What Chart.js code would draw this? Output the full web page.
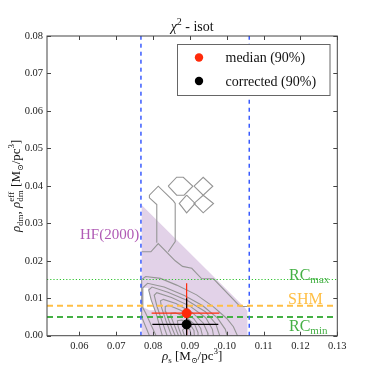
<!DOCTYPE html>
<html lang="en">
<head>
<meta charset="UTF-8">
<title>chi2 - isot</title>
<script src="https://cdn.jsdelivr.net/npm/chart.js"></script>
<style>
  html, body { margin: 0; padding: 0; background: #fff; }
</style>
</head>
<body>
<canvas id="rho-chart" width="374" height="374"></canvas>
<script>
// axis limits and ticks
const xMin = 0.0512, xMax = 0.13;
const yMin = 0, yMax = 0.08;
const xTicks = [0.06, 0.07, 0.08, 0.09, 0.10, 0.11, 0.12, 0.13];
const yTicks = [0.00, 0.01, 0.02, 0.03, 0.04, 0.05, 0.06, 0.07, 0.08];

// best-fit points with 90% ranges
const medianPoint = [0.0891, 0.0060];
const medianXRange = [0.0796, 0.0980];
const medianYRange = [0.0000, 0.0140];
const correctedPoint = [0.0891, 0.0030];
const correctedXRange = [0.0798, 0.0977];
const correctedYRange = [0.0000, 0.0100];

// reference values
const rhoSBounds = [0.0767, 0.1061];
const rcMax = 0.015;
const shm = 0.008;
const rcMin = 0.005;

// HF(2000) band
const hfBand = [[0.0769, 0.0], [0.0769, 0.0349], [0.1050, 0.0074], [0.1056, 0.0066], [0.1056, 0.0]];
const whitePatch = [[0.0773, 0.0076], [0.0773, 0.0127], [0.0786, 0.0128], [0.0794, 0.0096], [0.0806, 0.0068], [0.0790, 0.0068]];

// chi2 contours
const outerLine = [[0.0769, 0.0224], [0.0794, 0.0224], [0.0814, 0.0246], [0.0860, 0.0200], [0.0880, 0.0185], [0.0905, 0.0180],
  [0.0932, 0.0152], [0.0964, 0.0152], [0.1036, 0.0078], [0.1061, 0.0078]];
const hookLine = [[0.0841, 0.0224], [0.0860, 0.0251], [0.0860, 0.0353], [0.0855, 0.0360], [0.0814, 0.0399], [0.0790, 0.0375],
  [0.0790, 0.0368], [0.0810, 0.0350], [0.0810, 0.0248]];
const hexA = [[0.0841, 0.0399], [0.0864, 0.0423], [0.0882, 0.0423], [0.0908, 0.0399], [0.0884, 0.0375], [0.0864, 0.0375], [0.0841, 0.0399]];
const diamondB = [[0.0911, 0.0399], [0.0936, 0.0423], [0.0962, 0.0399], [0.0936, 0.0375], [0.0911, 0.0399]];
const diamondC = [[0.0936, 0.0375], [0.0964, 0.0353], [0.0936, 0.0328], [0.0911, 0.0353], [0.0936, 0.0375]];
const diamondD = [[0.0891, 0.0375], [0.0914, 0.0353], [0.0891, 0.0328], [0.0871, 0.0353], [0.0891, 0.0375]];

const contour1 = [[0.0790, 0], [0.0769, 0.0050], [0.0769, 0.0150], [0.0780, 0.0158], [0.0820, 0.0153], [0.0864, 0.0135],
  [0.0918, 0.0109], [0.0964, 0.0077], [0.1000, 0.0046], [0.1018, 0.0024], [0.1029, 0]];
const contour2 = [[0.0808, 0], [0.0780, 0.0060], [0.0772, 0.0075], [0.0772, 0.0128], [0.0785, 0.0140], [0.0830, 0.0130],
  [0.0885, 0.0107], [0.0935, 0.0080], [0.0975, 0.0047], [0.0996, 0.0017], [0.1001, 0]];
const contour3 = [[0.0825, 0], [0.0808, 0.0060], [0.0795, 0.0095], [0.0788, 0.0122], [0.0797, 0.0130], [0.0840, 0.0116],
  [0.0893, 0.0094], [0.0942, 0.0064], [0.0970, 0.0032], [0.0981, 0]];
const contour4 = [[0.0838, 0], [0.0822, 0.0045], [0.0810, 0.0080], [0.0803, 0.0108], [0.0810, 0.0115], [0.0850, 0.0102],
  [0.0900, 0.0079], [0.0943, 0.0048], [0.0961, 0.0017], [0.0964, 0]];
const contour5 = [[0.0850, 0], [0.0835, 0.0040], [0.0823, 0.0075], [0.0820, 0.0093], [0.0828, 0.0097], [0.0862, 0.0086],
  [0.0906, 0.0062], [0.0936, 0.0034], [0.0948, 0.0008], [0.0949, 0]];
const contour6 = [[0.0860, 0], [0.0845, 0.0035], [0.0834, 0.0065], [0.0833, 0.0078], [0.0842, 0.0081], [0.0875, 0.0068],
  [0.0910, 0.0046], [0.0929, 0.0020], [0.0934, 0]];
const contour7 = [[0.0869, 0], [0.0857, 0.0030], [0.0848, 0.0052], [0.0849, 0.0060], [0.0860, 0.0061], [0.0890, 0.0049],
  [0.0913, 0.0030], [0.0922, 0.0008], [0.0922, 0]];
const contour8 = [[0.0877, 0], [0.0868, 0.0024], [0.0866, 0.0040], [0.0878, 0.0042], [0.0900, 0.0031], [0.0911, 0.0014], [0.0912, 0]];
const contour9 = [[0.0885, 0], [0.0880, 0.0015], [0.0888, 0.0023], [0.0900, 0.0016], [0.0903, 0]];

const contourLines = [outerLine, hookLine, hexA, diamondB, diamondC, diamondD,
  contour1, contour2, contour3, contour4, contour5, contour6, contour7, contour8, contour9];

const SERIF = '"Liberation Serif", "DejaVu Serif", serif';
const RED = '#ff2a0a';
const GREEN = '#44b044';
const ORANGE = '#ffbf45';
const BLUE = '#3a5cff';
const PURPLE = '#b05ab5';

function toXY(pairs) {
  return pairs.map(p => ({ x: p[0], y: p[1] }));
}

function line(pairs, color, width, dash, order) {
  return {
    data: toXY(pairs), showLine: true, borderColor: color, borderWidth: width,
    borderDash: dash || [], pointRadius: 0, fill: false, order: order
  };
}

const datasets = [];
// points on top
datasets.push({ data: toXY([medianPoint]), pointRadius: 4.5, pointBackgroundColor: RED, pointBorderColor: RED, showLine: false, order: 0 });
datasets.push({ data: toXY([correctedPoint]), pointRadius: 4.5, pointBackgroundColor: '#000', pointBorderColor: '#000', showLine: false, order: 0 });
// error bars
datasets.push(line([[correctedXRange[0], correctedPoint[1]], [correctedXRange[1], correctedPoint[1]]], '#000', 1.2, null, 1));
datasets.push(line([[correctedPoint[0], correctedYRange[0]], [correctedPoint[0], correctedYRange[1]]], '#000', 1.2, null, 1));
datasets.push(line([[medianXRange[0], medianPoint[1]], [medianXRange[1], medianPoint[1]]], RED, 1.2, null, 1));
datasets.push(line([[medianPoint[0], medianYRange[0]], [medianPoint[0], medianYRange[1]]], RED, 1.2, null, 1));
// reference lines
rhoSBounds.forEach(v => datasets.push(line([[v, yMin], [v, yMax]], BLUE, 1.5, [4, 4], 2)));
datasets.push(line([[xMin, rcMax], [xMax, rcMax]], '#2fc42f', 1.2, [1.2, 2], 2));
datasets.push(line([[xMin, shm], [xMax, shm]], ORANGE, 2, [6, 4], 2));
datasets.push(line([[xMin, rcMin], [xMax, rcMin]], GREEN, 2, [6, 4], 2));
// contours
contourLines.forEach(c => datasets.push(line(c, '#959595', 1.1, null, 3)));
// white patch and HF band
datasets.push({ data: toXY(whitePatch), showLine: true, borderWidth: 0, borderColor: '#fff', backgroundColor: '#fff', pointRadius: 0, fill: 'shape', order: 4 });
datasets.push({ data: toXY(hfBand), showLine: true, borderWidth: 0, borderColor: 'rgba(0,0,0,0)', backgroundColor: '#e2d2e8', pointRadius: 0, fill: 'shape', order: 5 });

function drawRich(ctx, parts, x, y, align) {
  const measure = () => {
    let w = 0, stackW = 0;
    parts.forEach(p => {
      ctx.font = (p.it ? 'italic ' : '') + p.s + 'px ' + SERIF;
      const pw = ctx.measureText(p.t).width;
      if (p.stack) { stackW = pw; return; }
      w += Math.max(pw, stackW); stackW = 0;
    });
    return w;
  };
  let cx = align === 'center' ? x - measure() / 2 : x;
  let stackW = 0;
  ctx.textAlign = 'left';
  ctx.textBaseline = 'alphabetic';
  parts.forEach(p => {
    ctx.font = (p.it ? 'italic ' : '') + p.s + 'px ' + SERIF;
    const pw = ctx.measureText(p.t).width;
    ctx.fillText(p.t, cx, y + (p.dy || 0));
    if (p.stack) { stackW = pw; return; }
    cx += Math.max(pw, stackW); stackW = 0;
  });
}

const decorPlugin = {
  id: 'decor',
  afterDraw(chart) {
    const ctx = chart.ctx;
    const a = chart.chartArea;
    const xs = chart.scales.x, ys = chart.scales.y;
    ctx.save();
    // frame and inward ticks
    ctx.strokeStyle = '#444';
    ctx.lineWidth = 1;
    ctx.strokeRect(a.left, a.top, a.right - a.left, a.bottom - a.top);
    ctx.beginPath();
    xTicks.forEach(v => {
      const px = Math.round(xs.getPixelForValue(v)) + 0.5;
      ctx.moveTo(px, a.bottom); ctx.lineTo(px, a.bottom - 4);
      ctx.moveTo(px, a.top); ctx.lineTo(px, a.top + 4);
    });
    yTicks.forEach(v => {
      const py = Math.round(ys.getPixelForValue(v)) + 0.5;
      ctx.moveTo(a.left, py); ctx.lineTo(a.left + 4, py);
      ctx.moveTo(a.right, py); ctx.lineTo(a.right - 4, py);
    });
    ctx.stroke();

    // title
    ctx.fillStyle = '#111';
    drawRich(ctx, [{ t: 'χ', s: 14, it: true }, { t: '2', s: 10, dy: -6 }, { t: ' - isot', s: 14 }], (a.left + a.right) / 2, 31, 'center');
    // x label
    drawRich(ctx, [{ t: 'ρ', s: 13, it: true }, { t: 's', s: 9, dy: 3 }, { t: ' [M', s: 13 }, { t: '⊙', s: 8, dy: 3 },
      { t: '/pc', s: 13 }, { t: '3', s: 9, dy: -6 }, { t: ']', s: 13 }], (a.left + a.right) / 2, 360, 'center');
    // y label
    ctx.save();
    ctx.translate(20, (a.top + a.bottom) / 2);
    ctx.rotate(-Math.PI / 2);
    drawRich(ctx, [{ t: 'ρ', s: 13, it: true }, { t: 'dm', s: 9, dy: 3 }, { t: ', ', s: 13 }, { t: 'ρ', s: 13, it: true },
      { t: 'eff', s: 9, dy: -6, stack: true }, { t: 'dm', s: 9, dy: 3 }, { t: ' [M', s: 13 }, { t: '⊙', s: 8, dy: 3 },
      { t: '/pc', s: 13 }, { t: '3', s: 9, dy: -6 }, { t: ']', s: 13 }], 0, 0, 'center');
    ctx.restore();

    // annotations
    ctx.fillStyle = PURPLE;
    drawRich(ctx, [{ t: 'HF(2000)', s: 15 }], 80, 238.5, 'left');
    ctx.fillStyle = GREEN;
    drawRich(ctx, [{ t: 'RC', s: 16 }, { t: 'max', s: 11, dy: 3 }], 289, 280, 'left');
    drawRich(ctx, [{ t: 'RC', s: 16 }, { t: 'min', s: 11, dy: 3 }], 289, 331, 'left');
    ctx.fillStyle = ORANGE;
    drawRich(ctx, [{ t: 'SHM', s: 16 }], 288, 304, 'left');

    // legend
    ctx.fillStyle = '#fff';
    ctx.fillRect(177.5, 44.5, 152.5, 51);
    ctx.strokeStyle = '#666';
    ctx.strokeRect(177.5, 44.5, 152.5, 51);
    ctx.fillStyle = RED;
    ctx.beginPath(); ctx.arc(199, 57.5, 4.2, 0, Math.PI * 2); ctx.fill();
    ctx.fillStyle = '#000';
    ctx.beginPath(); ctx.arc(199, 81, 4.2, 0, Math.PI * 2); ctx.fill();
    ctx.fillStyle = '#111';
    drawRich(ctx, [{ t: 'median (90%)', s: 14 }], 225.5, 62, 'left');
    drawRich(ctx, [{ t: 'corrected (90%)', s: 14 }], 225.5, 85.5, 'left');
    ctx.restore();
  }
};

new Chart(document.getElementById('rho-chart'), {
  type: 'scatter',
  data: { datasets: datasets },
  options: {
    responsive: false,
    animation: false,
    layout: { padding: { top: 36, right: 36.7, left: 0, bottom: 0 } },
    plugins: { legend: { display: false }, tooltip: { enabled: false } },
    scales: {
      x: {
        type: 'linear', min: xMin, max: xMax,
        grid: { display: false, drawTicks: false },
        border: { display: false },
        afterBuildTicks: s => { s.ticks = xTicks.map(v => ({ value: v })); },
        afterFit: s => { s.height = 38.3; },
        ticks: { padding: 4, color: '#222', font: { family: SERIF, size: 10.5 }, maxRotation: 0, callback: v => v.toFixed(2) }
      },
      y: {
        type: 'linear', min: yMin, max: yMax,
        grid: { display: false, drawTicks: false },
        border: { display: false },
        afterBuildTicks: s => { s.ticks = yTicks.map(v => ({ value: v })); },
        afterFit: s => { s.width = 47; },
        ticks: { padding: 4, color: '#222', font: { family: SERIF, size: 10.5 }, callback: v => v.toFixed(2) }
      }
    }
  },
  plugins: [decorPlugin]
});
</script>
</body>
</html>
